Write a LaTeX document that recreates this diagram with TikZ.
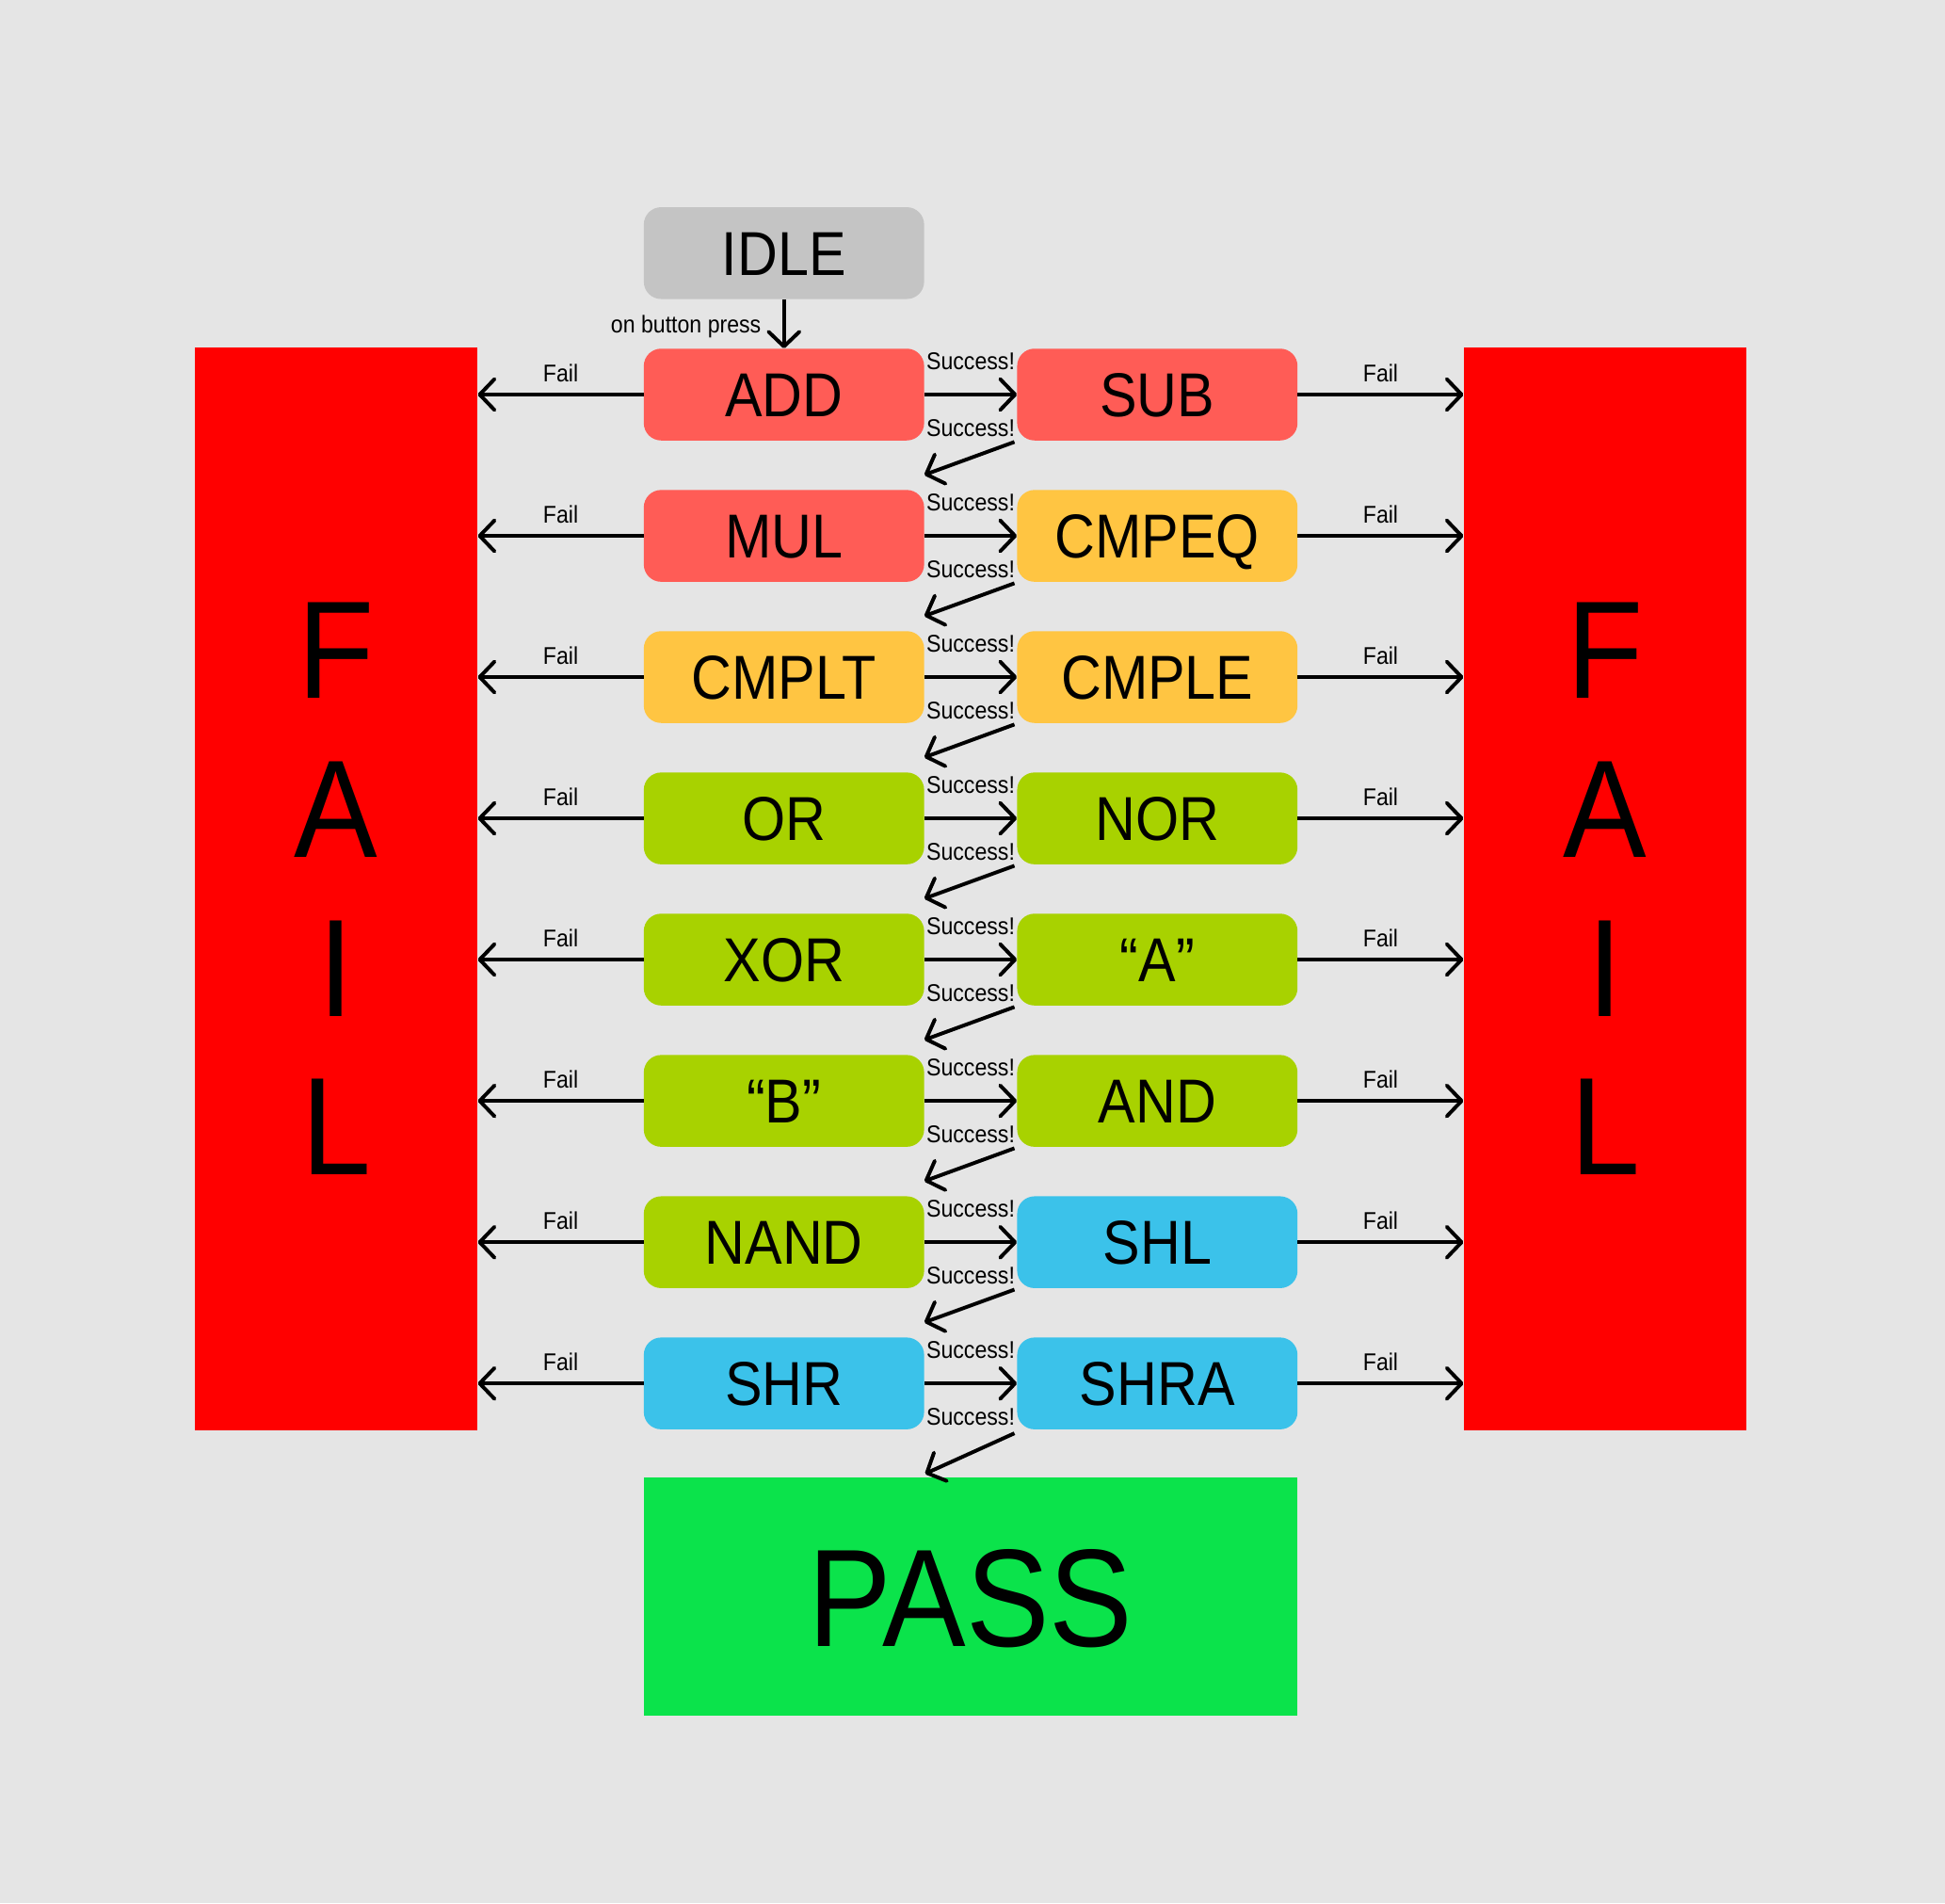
\documentclass[tikz,border=0pt]{standalone}
\usepackage{fontspec}
\setmainfont{Liberation Sans}[FakeStretch=0.9]
\usetikzlibrary{arrows.meta}
\definecolor{bgc}{RGB}{229,229,229}
\definecolor{idlec}{RGB}{196,196,196}
\definecolor{redc}{RGB}{255,92,86}
\definecolor{yelc}{RGB}{255,197,66}
\definecolor{grnc}{RGB}{168,210,0}
\definecolor{bluc}{RGB}{59,194,234}
\definecolor{failc}{RGB}{255,0,0}
\definecolor{passc}{RGB}{11,227,75}
\tikzset{
  opbox/.style={rectangle, rounded corners=14pt, minimum width=226pt, minimum height=74pt,
    inner sep=0pt, text height=35.8pt, text depth=0pt, font=\fontsize{50}{60}\selectfont},
  lbl/.style={inner sep=0pt, font=\fontsize{19.5}{22}\selectfont},
  arr/.style={line width=3pt, -{Straight Barb[length=12pt,width=25pt,round]}},
  failbox/.style={rectangle, fill=failc, minimum width=228pt, minimum height=873pt, inner sep=0pt,
    align=center, font=\fontsize{112}{128}\selectfont},
  passbox/.style={rectangle, fill=passc, minimum width=527pt, minimum height=192pt, inner sep=0pt,
    text height=80pt, text depth=0pt, font=\fontsize{112}{128}\selectfont}
}
\begin{document}
\begin{tikzpicture}[x=1pt,y=-1pt]
\fill[bgc] (0,0) rectangle (1568,1534);
\useasboundingbox (0,0) rectangle (1568,1534);

\node[failbox] (FL) at (271,716.5) {F\\A\\I\\L};
\node[failbox] (FR) at (1294,716.5) {F\\A\\I\\L};

\node[opbox, fill=idlec] (IDLE) at (632,204) {IDLE};

\node[opbox, fill=redc] (L1) at (632,318) {ADD};
\node[opbox, fill=redc] (L2) at (632,431.9) {MUL};
\node[opbox, fill=yelc] (L3) at (632,545.7) {CMPLT};
\node[opbox, fill=grnc] (L4) at (632,659.6) {OR};
\node[opbox, fill=grnc] (L5) at (632,773.4) {XOR};
\node[opbox, fill=grnc] (L6) at (632,887.3) {“B”};
\node[opbox, fill=grnc] (L7) at (632,1001.2) {NAND};
\node[opbox, fill=bluc] (L8) at (632,1115) {SHR};

\node[opbox, fill=redc] (R1) at (933,318) {SUB};
\node[opbox, fill=yelc] (R2) at (933,431.9) {CMPEQ};
\node[opbox, fill=yelc] (R3) at (933,545.7) {CMPLE};
\node[opbox, fill=grnc] (R4) at (933,659.6) {NOR};
\node[opbox, fill=grnc] (R5) at (933,773.4) {“A”};
\node[opbox, fill=grnc] (R6) at (933,887.3) {AND};
\node[opbox, fill=bluc] (R7) at (933,1001.2) {SHL};
\node[opbox, fill=bluc] (R8) at (933,1115) {SHRA};

\node[passbox] (PASS) at (782.5,1287) {PASS};

% idle arrow
\draw[arr] (IDLE.south) -- (L1.north);
\node[lbl, anchor=base] (press) at (553,268) {on button press};

% rows
\foreach \i in {1,...,8}{
  \draw[arr] (L\i.east) -- node[lbl, yshift=27pt]{Success!} node[lbl, yshift=-27pt]{Success!} (R\i.west);
  \draw[arr] (L\i.west) -- node[lbl, yshift=17pt]{Fail} (L\i.west -| FL.east);
  \draw[arr] (R\i.east) -- node[lbl, yshift=17pt]{Fail} (R\i.east -| FR.west);
}

% diagonal arrows
\foreach \i/\j in {1/2,2/3,3/4,4/5,5/6,6/7,7/8}{
  \coordinate (d\i) at ([yshift=12pt]L\j.north east);
  \draw[arr] ([xshift=-2pt,yshift=-1pt]R\i.south west) -- (d\i);
}
\coordinate (d8) at ([xshift=227pt,yshift=3pt]PASS.north west);
\draw[arr] ([xshift=-2pt,yshift=-3pt]R8.south west) -- (d8);
\end{tikzpicture}
\end{document}
